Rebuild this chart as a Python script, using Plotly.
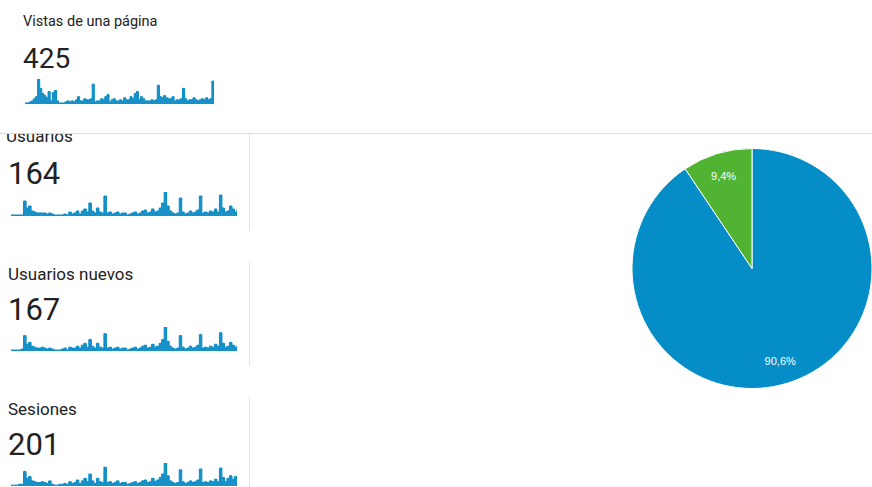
import plotly.graph_objects as go

W, H = 872, 487

# ---------------- data ----------------
metric_labels = ["Vistas de una página", "Usuarios", "Usuarios nuevos", "Sesiones"]
metric_totals = ["425", "164", "167", "201"]

vistas = [1, 1, 2, 3, 5, 7, 24, 15, 10, 8, 6, 12, 3, 11, 13, 3, 1, 1, 1, 2,
          3, 2, 3, 2, 4, 7, 3, 3, 5, 4, 4, 5, 19, 2, 3, 3, 5, 4, 7, 9,
          2, 4, 5, 3, 3, 4, 3, 6, 4, 4, 7, 5, 10, 12, 4, 7, 5, 3, 3, 3,
          4, 3, 4, 18, 7, 6, 8, 6, 5, 5, 7, 3, 4, 4, 5, 15, 5, 3, 4, 4,
          6, 4, 3, 4, 5, 4, 6, 4, 5, 22, 6]

usuarios = [1, 1, 1, 1, 1, 15, 8, 10, 5, 4, 3, 3, 3, 3, 2, 3, 2, 1, 1, 1,
            1, 2, 1, 4, 2, 3, 5, 2, 5, 7, 4, 13, 5, 3, 8, 4, 3, 20, 3, 4,
            2, 3, 4, 2, 3, 3, 1, 2, 3, 4, 2, 3, 5, 6, 3, 4, 7, 4, 5, 8,
            13, 24, 10, 5, 3, 2, 3, 18, 4, 2, 3, 5, 3, 4, 6, 20, 3, 4, 3, 5,
            4, 7, 4, 21, 8, 4, 5, 10, 7, 4, 7]

usuarios_nuevos = [1, 1, 1, 1, 2, 16, 7, 9, 5, 4, 3, 3, 4, 3, 2, 3, 2, 1, 1, 1,
                   2, 3, 1, 4, 3, 3, 5, 3, 6, 8, 4, 12, 5, 3, 8, 4, 3, 18, 3, 4,
                   2, 3, 4, 2, 3, 3, 1, 2, 3, 4, 2, 3, 5, 6, 3, 4, 7, 4, 5, 8,
                   12, 25, 10, 5, 3, 2, 3, 16, 4, 2, 3, 5, 3, 4, 6, 17, 3, 4, 3, 5,
                   4, 7, 5, 19, 8, 4, 5, 9, 6, 4, 6]

sesiones = [1, 1, 1, 2, 2, 17, 9, 11, 6, 5, 4, 4, 5, 4, 3, 6, 2, 1, 1, 2,
            2, 3, 2, 5, 3, 4, 7, 3, 6, 9, 5, 14, 6, 3, 9, 5, 4, 22, 4, 5,
            3, 4, 6, 3, 4, 4, 2, 3, 4, 5, 3, 4, 6, 7, 4, 5, 9, 5, 7, 10,
            14, 27, 12, 6, 4, 3, 4, 19, 5, 3, 4, 6, 4, 5, 7, 20, 4, 5, 4, 6,
            5, 8, 5, 21, 10, 5, 9, 12, 8, 11, 8]

series_list = [vistas, usuarios, usuarios_nuevos, sesiones]

pie_labels = ["New Visitor", "Returning Visitor"]
pie_values = [90.6, 9.4]
pie_colors = ["#058dc7", "#50b432"]

# ---------------- layout helpers ----------------
def xp(x):
    return x / W


def yp(y):
    return 1 - y / H


# sparkline boxes: (left, right, baseline, top) in pixels
spark_boxes = [(25, 214, 104, 79), (11, 237, 216, 192),
               (11, 237, 351, 327), (11, 237, 486, 463)]

BLUE = "#058dc7"
FILL = "#1890c8"
TXT = "#222222"

fig = go.Figure()
layout_axes = {}
for i, (vals, box) in enumerate(zip(series_list, spark_boxes)):
    n = i + 1
    xa = "x" if n == 1 else f"x{n}"
    ya = "y" if n == 1 else f"y{n}"
    fig.add_trace(go.Scatter(
        x=list(range(len(vals))), y=vals, mode="lines",
        line=dict(color=BLUE, width=1, shape="hv"), fill="tozeroy",
        fillcolor=FILL, xaxis=xa, yaxis=ya, hoverinfo="skip",
        showlegend=False))
    l, r, b, t = box
    kx = "xaxis" if n == 1 else f"xaxis{n}"
    ky = "yaxis" if n == 1 else f"yaxis{n}"
    layout_axes[kx] = dict(domain=[xp(l), xp(r)], range=[0, len(vals) - 1],
                           visible=False, fixedrange=True, anchor=ya)
    layout_axes[ky] = dict(domain=[yp(b), yp(t)], range=[0, max(vals)],
                           visible=False, fixedrange=True, anchor=xa)

# clipped "Usuarios" label via a text trace in a panel below the divider
fig.add_trace(go.Scatter(
    x=[6], y=[138], mode="text", text=[metric_labels[1]],
    textposition="middle right",
    textfont=dict(family="Roboto", size=17, color=TXT),
    xaxis="x5", yaxis="y5", cliponaxis=True, hoverinfo="skip",
    showlegend=False))
layout_axes["xaxis5"] = dict(domain=[0, xp(245)], range=[0, 245],
                             visible=False, fixedrange=True, anchor="y5")
layout_axes["yaxis5"] = dict(domain=[0, yp(134)], range=[H, 134],
                             visible=False, fixedrange=True, anchor="x5")

pie_domain = dict(x=[xp(632), 1.0], y=[yp(391), yp(146)])
# pie slices
fig.add_trace(go.Pie(
    labels=pie_labels, values=pie_values, sort=False,
    direction="clockwise", rotation=0,
    marker=dict(colors=pie_colors, line=dict(color="white", width=1)),
    textinfo="none", domain=pie_domain,
    showlegend=False, hoverinfo="skip"))
# percentage labels placed in an outer ring (transparent overlay)
fig.add_trace(go.Pie(
    labels=pie_labels, values=pie_values, sort=False,
    direction="clockwise", rotation=0, hole=0.62,
    marker=dict(colors=["rgba(0,0,0,0)", "rgba(0,0,0,0)"],
                line=dict(width=0)),
    texttemplate="%{percent:.1%}", textposition="inside",
    insidetextorientation="horizontal",
    textfont=dict(family="Arial", size=11, color="white"),
    domain=pie_domain, showlegend=False, hoverinfo="skip"))

annotations = []
# label/number positions (left x, center y, font size)
label_pos = [(23, 21, 14.5), None, (8, 274, 17), (8, 409, 17)]
number_pos = [(23, 59, 28), (8, 173, 31), (8, 309, 31), (8, 444, 31)]
for i in range(4):
    if label_pos[i] is not None:
        x, y, fs = label_pos[i]
        annotations.append(dict(x=xp(x - 2), y=yp(y), xref="paper", yref="paper",
                                xanchor="left", yanchor="middle",
                                text=metric_labels[i], showarrow=False,
                                font=dict(family="Roboto", size=fs, color=TXT)))
    x, y, fs = number_pos[i]
    annotations.append(dict(x=xp(x - 2), y=yp(y), xref="paper", yref="paper",
                            xanchor="left", yanchor="middle",
                            text=metric_totals[i], showarrow=False,
                            font=dict(family="Roboto", size=fs, color=TXT)))

shapes = [
    dict(type="line", xref="paper", yref="paper", x0=0, x1=1,
         y0=yp(133.5), y1=yp(133.5), line=dict(color="#dcdcdc", width=1)),
    dict(type="line", xref="paper", yref="paper", x0=xp(249.5), x1=xp(249.5),
         y0=yp(134), y1=yp(231), line=dict(color="#e2e2e2", width=1)),
    dict(type="line", xref="paper", yref="paper", x0=xp(249.5), x1=xp(249.5),
         y0=yp(262), y1=yp(366), line=dict(color="#e2e2e2", width=1)),
    dict(type="line", xref="paper", yref="paper", x0=xp(249.5), x1=xp(249.5),
         y0=yp(397), y1=0, line=dict(color="#e2e2e2", width=1)),
]

fig.update_layout(
    width=W, height=H, margin=dict(l=0, r=0, t=0, b=0),
    paper_bgcolor="white", plot_bgcolor="rgba(0,0,0,0)",
    separators=",.", annotations=annotations, shapes=shapes,
    showlegend=False, **layout_axes)

fig.write_html("out.html", config=dict(displayModeBar=False))
